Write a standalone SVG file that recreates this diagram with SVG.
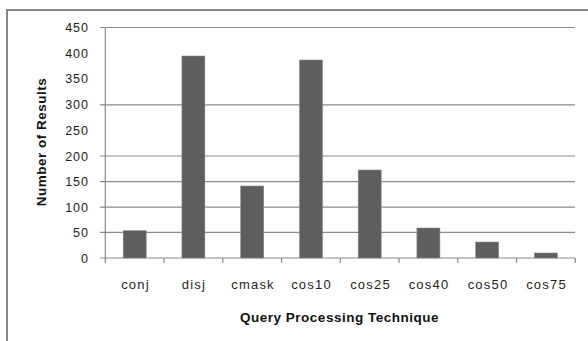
<svg xmlns="http://www.w3.org/2000/svg" width="588" height="341" viewBox="0 0 588 341">
<style>
.frame{fill:none;stroke:#878787;stroke-width:2}
.grid{stroke:#8a8a8a;stroke-width:1.2;fill:none}
.bar{fill:#5e5e5e;stroke:#8a8a8a;stroke-width:0.6}
.yl{font-family:"Liberation Sans",Arial,sans-serif;font-size:12.5px;fill:#1e1e1e;text-anchor:end;letter-spacing:1px}
.xl{font-family:"Liberation Sans",Arial,sans-serif;font-size:13px;fill:#1e1e1e;text-anchor:middle;letter-spacing:1.2px}
.title{font-family:"Liberation Sans",Arial,sans-serif;font-size:13.5px;font-weight:bold;fill:#111;text-anchor:middle;letter-spacing:0.5px}
</style>
<rect width="588" height="341" fill="#ffffff"/>
<path class="frame" d="M7,341 V10 H588"/>
<g id="gridlines">
<path class="grid" d="M100,27.5 H575 M100,104.8 H575 M100,156 H575 M100,181.6 H575 M100,207.2 H575 M100,232.4 H575"/>
</g>
<g id="axes">
<path class="grid" d="M105.3,27.5 V258 M100,258 H575.3"/>
<path class="grid" d="M105.3,258 V263 M164.05,258 V263 M222.8,258 V263 M281.55,258 V263 M340.3,258 V263 M399.05,258 V263 M457.8,258 V263 M516.55,258 V263 M575.3,258 V263"/>
</g>
<g id="ylabels">
<text class="yl" x="89" y="32">450</text>
<text class="yl" x="89" y="57.5">400</text>
<text class="yl" x="89" y="83">350</text>
<text class="yl" x="89" y="109">300</text>
<text class="yl" x="89" y="134.5">250</text>
<text class="yl" x="89" y="160.5">200</text>
<text class="yl" x="89" y="186">150</text>
<text class="yl" x="89" y="211.5">100</text>
<text class="yl" x="89" y="237">50</text>
<text class="yl" x="89" y="262.5">0</text>
</g>
<g id="bars">
<rect id="bar-conj" class="bar" x="123.2" y="230.7" width="23" height="27.3"/>
<rect id="bar-disj" class="bar" x="181.9" y="56" width="23" height="202"/>
<rect id="bar-cmask" class="bar" x="240.7" y="186" width="23" height="72"/>
<rect id="bar-cos10" class="bar" x="299.5" y="60" width="23" height="198"/>
<rect id="bar-cos25" class="bar" x="358.2" y="170" width="23" height="88"/>
<rect id="bar-cos40" class="bar" x="416.9" y="228" width="23" height="30"/>
<rect id="bar-cos50" class="bar" x="475.7" y="242" width="23" height="16"/>
<rect id="bar-cos75" class="bar" x="534.4" y="253" width="23" height="5"/>
</g>
<g id="xlabels">
<text class="xl" x="135.5" y="289">conj</text>
<text class="xl" x="194" y="289">disj</text>
<text class="xl" x="253" y="289">cmask</text>
<text class="xl" x="311.5" y="289">cos10</text>
<text class="xl" x="370.5" y="289">cos25</text>
<text class="xl" x="429" y="289">cos40</text>
<text class="xl" x="488" y="289">cos50</text>
<text class="xl" x="546.5" y="289">cos75</text>
</g>
<g id="titles">
<text class="title" x="339.5" y="322">Query Processing Technique</text>
<text class="title" transform="translate(46,142) rotate(-90)" x="0" y="0">Number of Results</text>
</g>
</svg>
